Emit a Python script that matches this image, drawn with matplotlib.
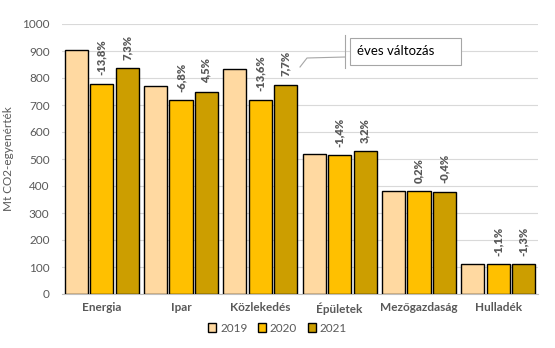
import matplotlib
matplotlib.use("Agg")
import matplotlib.pyplot as plt
from matplotlib.patches import Rectangle
import numpy as np

categories = ["Energia", "Ipar", "Közlekedés", "Épületek", "Mezőgazdaság", "Hulladék"]
years = ["2019", "2020", "2021"]
v2019 = [904, 770, 833, 520, 380, 112]
v2020 = [779, 718, 720, 513, 381, 111]
v2021 = [836, 750, 775, 529, 379, 110]
chg2020 = ["-13,8%", "-6,8%", "-13,6%", "-1,4%", "0,2%", "-1,1%"]
chg2021 = ["7,3%", "4,5%", "7,7%", "3,2%", "-0,4%", "-1,3%"]

colors = ["#FFD9A1", "#FFC000", "#CC9E00"]
gray = "#595959"
plt.rcParams['font.family'] = ['Lato', 'DejaVu Sans']

fig = plt.figure(figsize=(5.55, 3.48), dpi=100)
ax = fig.add_axes([62/555, 1-294/348, 476/555, 270/348])

x = np.arange(len(categories))
w = 0.29
step = 0.32
series = [v2019, v2020, v2021]
bars = []
for i, (vals, c) in enumerate(zip(series, colors)):
    b = ax.bar(x + (i-1)*step, vals, w, color=c, edgecolor="black", linewidth=1.0,
               label=years[i], zorder=3)
    bars.append(b)

for i in range(len(categories)):
    for j, lab in ((1, chg2020[i]), (2, chg2021[i])):
        ax.annotate(lab, (x[i] + (j-1)*step, series[j][i]), xytext=(0, 6),
                    textcoords="offset points", rotation=90, ha="center", va="bottom",
                    fontsize=8, fontweight="heavy", color=gray)

ax.set_ylim(0, 1000)
ax.set_xlim(-0.5, len(categories)-0.5)
ax.set_yticks(range(0, 1001, 100))
ax.yaxis.grid(True, color="#D9D9D9", linewidth=0.8, zorder=0)
ax.set_axisbelow(True)
for s in ["top", "right", "left"]:
    ax.spines[s].set_visible(False)
ax.spines["bottom"].set_color("#BFBFBF")
ax.tick_params(axis="y", length=0, labelsize=8.5, labelcolor=gray, pad=9)
ax.tick_params(axis="x", length=0, labelsize=8.5, labelcolor=gray, pad=6)
ax.set_xticks(x)
ax.set_xticklabels(categories, fontweight="bold")
ax.set_ylabel("Mt CO2-egyenérték", fontsize=8.5, color=gray, labelpad=6)

# callout
fig.add_artist(Rectangle((350/555, 1-65/348), 111/555, 27/348, transform=fig.transFigure,
                         facecolor="white", edgecolor="#A6A6A6", linewidth=0.8))
fig.text(357/555, 1-51/348, "éves változás", ha="left", va="center", fontsize=9.5,
         color="black")
fig.add_artist(plt.Line2D([300/555, 307/555, 345/555], [1-67/348, 1-58/348, 1-57/348],
                          color="#A6A6A6", linewidth=0.8, transform=fig.transFigure))
fig.add_artist(plt.Line2D([345/555, 345/555], [1-35/348, 1-68/348],
                          color="#A6A6A6", linewidth=0.8, transform=fig.transFigure))

leg = fig.legend(handles=bars, labels=years, loc="center", bbox_to_anchor=(0.5, 1-328/348),
                 ncol=3, frameon=False, fontsize=8.5, handlelength=0.7, handleheight=0.7,
                 handletextpad=0.3, columnspacing=0.9)
for t in leg.get_texts():
    t.set_color(gray)

fig.savefig("out.png", dpi=100)
